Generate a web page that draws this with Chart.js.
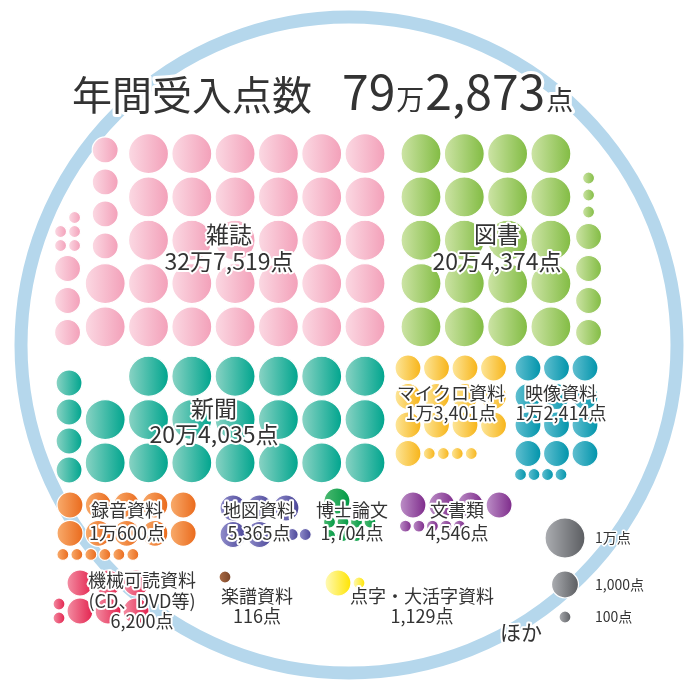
<!DOCTYPE html>
<html lang="ja">
<head>
<meta charset="utf-8">
<title>年間受入点数</title>
<script src="https://cdn.jsdelivr.net/npm/chart.js@4.4.1/dist/chart.umd.min.js"></script>
<style>
    html, body { margin: 0; padding: 0; background: #fff; }
    #wrap { width: 696px; height: 684px; }
</style>
</head>
<body>
<div id="wrap"><canvas id="grafico" width="696" height="684"></canvas></div>
<script>
// values
const titleText = "年間受入点数";
const grandTotal = 792873;
const categories = ["雑誌", "図書", "新聞", "マイクロ資料", "映像資料", "録音資料", "地図資料", "博士論文", "文書類", "機械可読資料", "楽譜資料", "点字・大活字資料"];
const subLabels = ["", "", "", "", "", "", "", "", "", "(CD、DVD等)", "", ""];
const totals = [327519, 204374, 204035, 13401, 12414, 10600, 5365, 1704, 4546, 6200, 116, 1129];
// number of dots per category: 1万点 / 1,000点 / 100点
const bigDots = [32, 20, 20, 0, 0, 0, 0, 0, 0, 0, 0, 0];
const midDots = [7, 4, 4, 13, 12, 10, 5, 1, 4, 6, 0, 1];
const smallDots = [5, 3, 0, 4, 4, 6, 3, 7, 5, 2, 1, 1];
const scaleLabels = ["1万点", "1,000点", "100点"];
const otherLabel = "ほか";

const lightColors = ["#fbd9e3", "#cde4a6", "#8ad3c4", "#fde69a", "#62bfd0", "#f8ab6c", "#918ecb", "#4cb870", "#bc8fc7", "#f38ea3", "#ab6d47", "#fffab8"];
const darkColors = ["#f3a0b9", "#82bc43", "#00a58e", "#f7b418", "#0094ab", "#ea6a1c", "#4a4598", "#009944", "#7e2b8b", "#e3224e", "#7a4326", "#ffe400"];

document.addEventListener("DOMContentLoaded", () => {
    const ctx = document.getElementById("grafico").getContext("2d");
    const FONT = "'Noto Sans CJK JP', 'Noto Sans', sans-serif";
    const DIAM = [40, 26, 12];

    // block layout for each category (where the dots of a group start, how they flow)
    const blocks = [
        { mode: "col", x: 365, bottom: 348.5, height: 216.5, dir: -1, pitch: [43.3, 32, 14], smallPerRow: 2, lx: 229, ly: 243, size: 23, lh: 27 },
        { mode: "col", x: 421, bottom: 348.5, height: 216.5, dir: 1, pitch: [43.3, 32, 17], smallPerRow: 1, lx: 497, ly: 243, size: 23, lh: 27 },
        { mode: "col", x: 365, bottom: 484.5, height: 130, dir: -1, pitch: [43.3, 29, 14], lx: 214, ly: 417, size: 23, lh: 26 },
        { mode: "row", x: 408, y: 368, width: 114, pitch: [0, 28.5, 14], lx: 451, ly: 400, size: 18, lh: 20 },
        { mode: "row", x: 528, y: 368, width: 86, pitch: [0, 28.5, 13.5], lx: 561, ly: 400, size: 18, lh: 20 },
        { mode: "row", x: 70, y: 505, width: 142, pitch: [0, 28.3, 14], lx: 127, ly: 517, size: 18, lh: 23 },
        { mode: "row", x: 233, y: 508, width: 92, pitch: [0, 26.5, 13], lx: 259, ly: 517, size: 18, lh: 23 },
        { mode: "row", x: 337, y: 501, width: 55, pitch: [0, 28.5, 13.5], lx: 352, ly: 517, size: 18, lh: 23 },
        { mode: "row", x: 413, y: 505, width: 115, pitch: [0, 28.7, 13.5], lx: 457, ly: 517, size: 18, lh: 23 },
        { mode: "col", x: 136, bottom: 625, height: 58, dir: -1, pitch: [0, 28, 14], lx: 142, ly: 587, size: 18, lh: 20.5 },
        { mode: "row", x: 225, y: 577, width: 30, pitch: [0, 28, 13], lx: 257, ly: 603, size: 18, lh: 20 },
        { mode: "row", x: 338, y: 583, width: 60, pitch: [0, 28, 14], lx: 422, ly: 603, size: 18, lh: 20 }
    ];
    const legendBox = { x: 565, y: 538, gap: 13, diam: [40, 27, 12], lx: 595, size: 14 };
    const ring = { x: 349, y: 345, r: 328, width: 13, color: "#b5d7ec" };

    function formatPoints(v) {
        const man = Math.floor(v / 10000);
        const rest = v % 10000;
        return (man > 0 ? man + "万" : "") + rest.toLocaleString("en-US") + "点";
    }

    // stack dots in columns, bottom-up; a smaller tier keeps filling the column if two rows still fit
    function packColumns(g, counts) {
        const pts = [];
        const top = g.bottom - g.height;
        let cx = null, cw = 0, fillY = top;
        const newColumn = (w) => {
            cx = cx === null ? g.x : cx + g.dir * (cw / 2 + w / 2);
            cw = w;
            fillY = g.bottom;
        };
        counts.forEach((n, t) => {
            if (!n) return;
            const p = g.pitch[t];
            const k = t === 2 ? (g.smallPerRow || 1) : 1;
            if (cx === null || fillY - top < 2 * p) newColumn(p * k);
            for (let i = 0; i < n; i += k) {
                if (fillY - p < top - 2) newColumn(p * k);
                const y = fillY - p / 2;
                const m = Math.min(k, n - i);
                for (let j = 0; j < m; j++) {
                    const x = cx - g.dir * (k - 1) / 2 * p + g.dir * j * p;
                    pts.push({ x: x, y: y, r: DIAM[t] / 2 });
                }
                fillY -= p;
            }
        });
        return pts;
    }

    // lay dots in rows, left to right
    function packRows(g, counts) {
        const pts = [];
        const first = counts.findIndex(n => n > 0);
        const left = g.x - g.pitch[first] / 2;
        const right = left + g.width;
        let rowY = null, rowH = 0, fillX = right;
        const newRow = (h) => {
            rowY = rowY === null ? g.y : rowY + rowH / 2 + h / 2;
            rowH = h;
            fillX = left;
        };
        counts.forEach((n, t) => {
            if (!n) return;
            const p = g.pitch[t];
            if (rowY === null || right - fillX < 2 * p) newRow(p);
            for (let i = 0; i < n; i++) {
                if (fillX + p > right + 2) newRow(p);
                pts.push({ x: fillX + p / 2, y: rowY, r: DIAM[t] / 2 });
                fillX += p;
            }
        });
        return pts;
    }

    function gradientFill(light, dark) {
        return (c) => {
            const chart = c.chart;
            if (!chart.chartArea || !c.raw) return dark;
            const px = chart.scales.x.getPixelForValue(c.raw.x);
            const r = c.raw.r;
            const g = chart.ctx.createLinearGradient(px - r, 0, px + r, 0);
            g.addColorStop(0, light);
            g.addColorStop(1, dark);
            return g;
        };
    }

    const datasets = categories.map((name, i) => {
        const counts = [bigDots[i], midDots[i], smallDots[i]];
        const g = blocks[i];
        const pts = g.mode === "col" ? packColumns(g, counts) : packRows(g, counts);
        return {
            label: name,
            data: pts,
            backgroundColor: gradientFill(lightColors[i], darkColors[i]),
            borderColor: "#ffffff",
            borderWidth: 1.2,
            clip: false
        };
    });

    // scale legend: one dot of each size
    const legendPts = [];
    let ly = legendBox.y;
    scaleLabels.forEach((lab, i) => {
        if (i > 0) ly += legendBox.diam[i - 1] / 2 + legendBox.gap + legendBox.diam[i] / 2;
        legendPts.push({ x: legendBox.x, y: ly, r: legendBox.diam[i] / 2 });
    });
    datasets.push({
        label: "scale",
        data: legendPts,
        backgroundColor: gradientFill("#abadb1", "#5b5d61"),
        borderColor: "#ffffff",
        borderWidth: 1.2,
        clip: false
    });

    function haloText(c, text, x, y, size, align, halo) {
        c.font = size + "px " + FONT;
        c.textAlign = align;
        c.textBaseline = "alphabetic";
        c.lineJoin = "round";
        c.strokeStyle = "#ffffff";
        c.lineWidth = halo;
        c.strokeText(text, x, y);
        c.fillStyle = "#333333";
        c.fillText(text, x, y);
    }

    const ringPlugin = {
        id: "ring",
        beforeDatasetsDraw(chart) {
            const c = chart.ctx;
            const sx = chart.scales.x, sy = chart.scales.y;
            c.save();
            c.beginPath();
            c.arc(sx.getPixelForValue(ring.x), sy.getPixelForValue(ring.y), ring.r, 0, Math.PI * 2);
            c.strokeStyle = ring.color;
            c.lineWidth = ring.width;
            c.stroke();
            c.restore();
        }
    };

    const textPlugin = {
        id: "texts",
        afterDatasetsDraw(chart) {
            const c = chart.ctx;
            const sx = chart.scales.x, sy = chart.scales.y;
            c.save();
            categories.forEach((name, i) => {
                const g = blocks[i];
                const lines = [name];
                if (subLabels[i]) lines.push(subLabels[i]);
                lines.push(formatPoints(totals[i]));
                lines.forEach((t, k) => {
                    haloText(c, t, sx.getPixelForValue(g.lx), sy.getPixelForValue(g.ly) + k * g.lh, g.size, "center", 4);
                });
            });
            legendPts.forEach((p, i) => {
                haloText(c, scaleLabels[i], sx.getPixelForValue(legendBox.lx), sy.getPixelForValue(p.y) + 5, legendBox.size, "left", 3);
            });
            haloText(c, otherLabel, 500, 640, 21, "left", 4);

            // title with mixed sizes
            const man = Math.floor(grandTotal / 10000);
            const rest = (grandTotal % 10000).toLocaleString("en-US");
            const parts = [
                { t: titleText, s: 40, after: 30 },
                { t: String(man), s: 48, after: 1 },
                { t: "万", s: 28, after: 1 },
                { t: rest, s: 48, after: 1 },
                { t: "点", s: 27, after: 0 }
            ];
            let x = 72;
            parts.forEach(p => {
                c.font = p.s + "px " + FONT;
                haloText(c, p.t, x, 110, p.s, "left", 6);
                x += c.measureText(p.t).width + p.after;
            });
            c.restore();
        }
    };

    new Chart(ctx, {
        type: "bubble",
        data: { datasets: datasets },
        options: {
            responsive: false,
            animation: false,
            events: [],
            layout: { padding: 0, autoPadding: false },
            scales: {
                x: { type: "linear", min: 0, max: 696, display: false },
                y: { type: "linear", min: 0, max: 684, reverse: true, display: false }
            },
            plugins: {
                legend: { display: false },
                tooltip: { enabled: false }
            }
        },
        plugins: [ringPlugin, textPlugin]
    });
});
</script>
</body>
</html>
